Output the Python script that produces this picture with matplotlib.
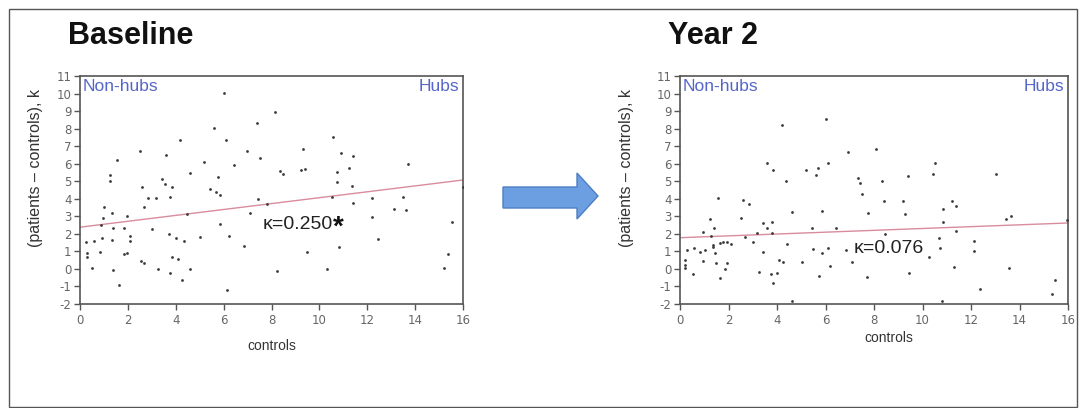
import matplotlib
matplotlib.use("Agg")
import matplotlib.pyplot as plt
from matplotlib.patches import Polygon, Rectangle

plt.rcParams["axes.unicode_minus"] = False

# ---------------- data ----------------
base_x = [6.03, 7.38, 5.6, 4.18, 6.1, 2.5, 3.58, 6.96, 1.56, 5.18, 6.45, 7.52, 1.25, 1.25,
          4.6, 5.78, 3.41, 3.55, 3.83, 2.58, 5.43, 5.68, 5.85, 2.83, 3.17, 3.76, 7.45, 1.0,
          2.67, 1.32, 1.95, 0.97, 4.46, 7.1, 0.88, 5.85, 1.39, 1.85, 3.0, 2.09, 3.72, 4.0,
          5.01, 6.22, 0.24, 0.58, 0.9, 1.32, 2.09, 4.34, 6.86, 0.84, 0.28, 0.28, 1.95, 1.85,
          3.83, 4.11, 2.55, 2.67, 0.49, 1.39, 3.24, 3.76, 4.6, 4.25, 1.64, 6.13,
          8.15, 10.58, 9.33, 10.9, 11.42, 13.69, 8.35, 8.47, 9.23, 9.4, 10.75, 11.25, 10.75,
          11.35, 15.98, 7.8, 10.51, 11.42, 12.18, 13.5, 13.12, 13.6, 12.18, 15.55, 12.43,
          10.83, 9.49, 15.38, 10.33, 8.21, 15.22]
base_y = [10.01, 8.30, 8.05, 7.35, 7.35, 6.72, 6.5, 6.72, 6.21, 6.08, 5.93, 6.3, 5.36, 5.01,
          5.45, 5.26, 5.13, 4.84, 4.65, 4.69, 4.56, 4.40, 4.22, 4.06, 4.03, 4.12, 3.97, 3.55,
          3.55, 3.21, 3.02, 2.89, 3.13, 3.17, 2.5, 2.56, 2.32, 2.32, 2.26, 1.9, 1.97, 1.78,
          1.84, 1.9, 1.55, 1.6, 1.75, 1.65, 1.6, 1.6, 1.31, 0.98, 0.89, 0.70, 0.93, 0.84,
          0.70, 0.57, 0.45, 0.32, 0.07, -0.06, -0.02, -0.25, -0.02, -0.63, -0.92, -1.2,
          8.93, 7.54, 6.84, 6.59, 6.46, 5.98, 5.58, 5.40, 5.62, 5.68, 5.54, 5.74, 4.97,
          4.75, 4.65, 3.7, 4.12, 3.78, 4.03, 4.08, 3.4, 3.36, 2.98, 2.66, 1.69,
          1.23, 0.95, 0.84, 0.0, -0.12, 0.07]

year2_x = [4.19, 6.02, 6.92, 3.57, 3.85, 6.09, 5.18, 5.68, 5.61, 4.36,
           8.08, 10.52, 10.45, 9.39, 13.03, 7.35, 7.42, 8.34, 7.49,
           1.58, 2.58, 2.86, 4.6, 5.84, 1.24, 2.5, 1.41, 5.43, 6.43, 0.94, 3.44, 3.78, 3.6,
           3.16, 3.78, 1.27, 2.68, 3.0, 1.65, 1.79, 1.93, 2.09, 1.37, 1.35, 4.4, 0.27, 0.58,
           0.82, 1.03, 1.44, 3.44, 5.47, 6.12, 5.84, 6.85, 4.1, 4.26, 5.02, 0.94, 1.47, 1.93,
           0.19, 0.19, 0.22, 6.19, 0.52, 1.86, 3.27, 3.74, 4.01, 5.74, 1.65, 3.85, 4.6,
           8.42, 9.18, 11.2, 11.37, 7.77, 9.28, 10.86, 10.86, 13.44, 13.64, 15.95, 8.45,
           11.37, 10.69, 10.72, 12.12, 12.12, 10.28, 7.1, 11.3, 13.57, 7.7, 9.44, 12.37,
           15.46, 15.33, 10.79]
year2_y = [8.21, 8.55, 6.65, 6.02, 5.64, 6.06, 5.64, 5.74, 5.36, 5.01,
           6.82, 6.02, 5.40, 5.32, 5.41, 5.2, 4.88, 5.01, 4.27,
           4.06, 3.93, 3.69, 3.23, 3.32, 2.83, 2.89, 2.32, 2.35, 2.32, 2.12, 2.64, 2.69, 2.35,
           2.03, 2.03, 1.9, 1.84, 1.52, 1.46, 1.52, 1.55, 1.42, 1.37, 1.27, 1.4, 1.08, 1.21,
           0.98, 1.08, 0.89, 0.98, 1.12, 1.18, 0.93, 1.08, 0.51, 0.38, 0.38, 0.45, 0.32, 0.32,
           0.51, 0.23, 0.04, 0.17, -0.29, 0.0, -0.19, -0.31, -0.25, -0.4, -0.53, -0.82, -1.83,
           3.87, 3.87, 3.87, 3.59, 3.21, 3.12, 3.4, 2.69, 2.84, 3.04, 2.79, 1.97,
           2.18, 1.78, 1.21, 1.59, 1.04, 0.7, 0.41, 0.13, 0.07, -0.44, -0.21, -1.16,
           -0.63, -1.45, -1.83]

fit_x = [0, 16]
base_fit_y = [2.38, 5.07]
year2_fit_y = [1.78, 2.62]

x_ticks = [0, 2, 4, 6, 8, 10, 12, 14, 16]
y_ticks = list(range(-2, 12))
titles = ["Baseline", "Year 2"]
kappa_labels = ["κ=0.250", "κ=0.076"]
kappa_pos = [(7.65, 2.56), (7.18, 1.19)]

# ---------------- figure ----------------
fig = plt.figure(figsize=(10.8, 4.08), dpi=100)
SANS = ["Liberation Sans", "DejaVu Sans"]

# outer frame
fig.patches.append(Rectangle((9 / 1080, 1 / 408), 1068 / 1080, 398 / 408,
                             transform=fig.transFigure, fill=False,
                             edgecolor="#555555", linewidth=1.0))

ax_rects = [
    [80 / 1080, 1 - 304 / 408, 383 / 1080, 228 / 408],
    [680 / 1080, 1 - 304 / 408, 388 / 1080, 228 / 408],
]
data_sets = [(base_x, base_y, base_fit_y), (year2_x, year2_y, year2_fit_y)]
title_x = [68 / 1080, 668 / 1080]
ylabel_x = [36 / 1080, 626 / 1080]
xlabel_pad = [9, 3]

axes = []
for i, rect in enumerate(ax_rects):
    ax = fig.add_axes(rect)
    axes.append(ax)
    xs, ys, fy = data_sets[i]
    ax.scatter(xs, ys, s=4, color="#3a3a3a", linewidths=0, zorder=3)
    ax.plot(fit_x, fy, color="#d98c9c", linewidth=1.0, zorder=2)
    ax.set_xlim(0, 16)
    ax.set_ylim(-2, 11)
    ax.set_xticks(x_ticks)
    ax.set_yticks(y_ticks)
    ax.tick_params(direction="out", length=4, width=1.0, color="#555555",
                   labelcolor="#666666", labelsize=8.5, pad=2)
    ax.tick_params(axis="x", pad=3)
    for sp in ax.spines.values():
        sp.set_color("#555555")
        sp.set_linewidth(1.2)
    ax.set_xlabel("controls", fontsize=10, family=SANS, color="#333333",
                  labelpad=xlabel_pad[i])
    if i == 1:
        ax.xaxis.set_label_coords(0.537, -0.12)
    fig.text(ylabel_x[i], 1 - 168 / 408,
             "(patients – controls), k", rotation=90, va="center", ha="center",
             fontsize=11.5, family=SANS, color="#333333")
    ax.text(0.006, 0.985, "Non-hubs", transform=ax.transAxes, ha="left", va="top",
            fontsize=12.5, family=SANS, color="#5566c8")
    ax.text(0.99, 0.985, "Hubs", transform=ax.transAxes, ha="right", va="top",
            fontsize=12.5, family=SANS, color="#5566c8")
    kt = ax.text(kappa_pos[i][0], kappa_pos[i][1], kappa_labels[i], ha="left",
                 va="center", fontsize=14, family=SANS, color="#222222", zorder=4)
    if i == 0:
        ax.annotate("*", xy=(1.0, 1.05), xycoords=kt, ha="left", va="top",
                    fontsize=20, fontweight="bold", family=SANS, color="#111111")
    fig.text(title_x[i], 1 - 36 / 408, titles[i], ha="left", va="center",
             fontsize=22, fontweight="bold", family=SANS, color="#111111")

# arrow between panels
def fx(px):
    return px / 1080

def fy_(py):
    return 1 - py / 408

arrow_pts = [(503, 187), (577, 187), (577, 173), (598, 196), (577, 219), (577, 208), (503, 208)]
arrow = Polygon([(fx(a), fy_(b)) for a, b in arrow_pts], closed=True,
                transform=fig.transFigure, facecolor="#6b9fe2", edgecolor="#4f7fc2",
                linewidth=1.0)
fig.patches.append(arrow)

fig.savefig("out.png", dpi=100)
